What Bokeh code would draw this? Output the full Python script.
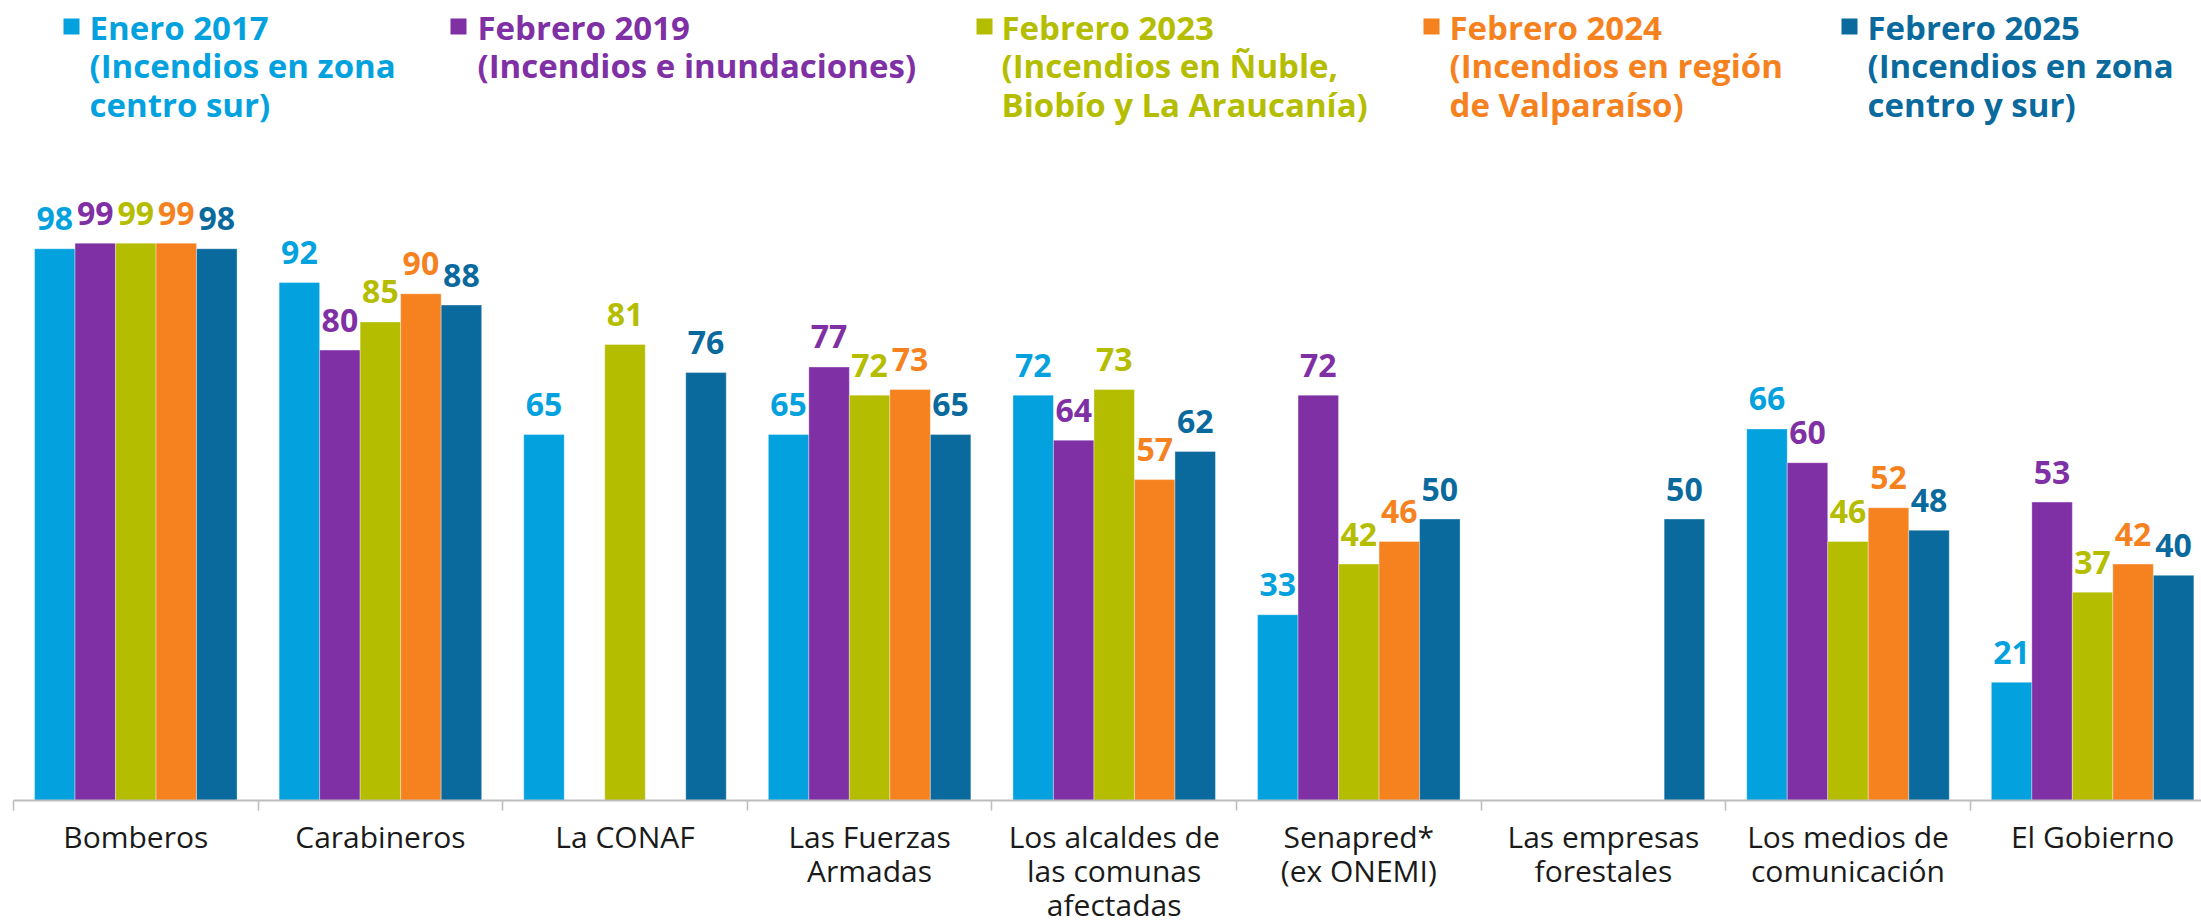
from bokeh.plotting import figure
from bokeh.models import (Range1d, ColumnDataSource, LinearAxis, FixedTicker, Label, BoxAnnotation)
from bokeh.core.properties import value
from bokeh.embed import file_html
from bokeh.resources import INLINE

# ---------------- data ----------------
categories = ["Bomberos", "Carabineros", "La CONAF", "Las Fuerzas\nArmadas",
              "Los alcaldes de\nlas comunas\nafectadas", "Senapred*\n(ex ONEMI)",
              "Las empresas\nforestales", "Los medios de\ncomunicación", "El Gobierno"]

series_labels = [
    "Enero 2017\n(Incendios en zona\ncentro sur)",
    "Febrero 2019\n(Incendios e inundaciones)",
    "Febrero 2023\n(Incendios en Ñuble,\nBiobío y La Araucanía)",
    "Febrero 2024\n(Incendios en región\nde Valparaíso)",
    "Febrero 2025\n(Incendios en zona\ncentro y sur)",
]
enero_2017 = [98, 92, 65, 65, 72, 33, None, 66, 21]
febrero_2019 = [99, 80, None, 77, 64, 72, None, 60, 53]
febrero_2023 = [99, 85, 81, 72, 73, 42, None, 46, 37]
febrero_2024 = [99, 90, None, 73, 57, 46, None, 52, 42]
febrero_2025 = [98, 88, 76, 65, 62, 50, 50, 48, 40]
series_values = [enero_2017, febrero_2019, febrero_2023, febrero_2024, febrero_2025]

# ---------------- style ----------------
colors = ["#03a2df", "#7f30a5", "#b5bd00", "#f6821f", "#0a6a9d"]
BAR_W = 0.1656
offsets = [-2 * BAR_W, -BAR_W, 0.0, BAR_W, 2 * BAR_W]
FONT = "Open Sans"

N = len(categories)
FRAME_LEFT = 13
FRAME_W = 2201 - FRAME_LEFT
CAT_PX = 244.6
FRAME_H = 800
PX_PER_UNIT = 5.63
y_max = FRAME_H / PX_PER_UNIT
x_max = FRAME_W / CAT_PX


def page_x(px):
    return (px - FRAME_LEFT) / CAT_PX


def page_y(py):
    return y_max - py / PX_PER_UNIT


p = figure(x_range=Range1d(0, x_max), y_range=Range1d(0, y_max),
           frame_width=FRAME_W, frame_height=FRAME_H,
           output_backend="svg", toolbar_location=None,
           x_axis_location=None, y_axis_location=None,
           min_border_left=FRAME_LEFT, min_border_right=0,
           min_border_top=0, min_border_bottom=0)
p.outline_line_color = None
p.xgrid.grid_line_color = None
p.ygrid.grid_line_color = None
p.background_fill_color = "white"
p.border_fill_color = "white"

# separator ticks at category boundaries (no labels)
boundaries = list(range(N + 1))
sep_axis = LinearAxis(ticker=FixedTicker(ticks=boundaries, minor_ticks=[]),
                      major_label_overrides={b: "" for b in boundaries},
                      major_tick_out=10, major_tick_in=0, minor_tick_line_color=None,
                      axis_line_color="#bdbdbd", axis_line_width=2,
                      major_tick_line_color="#bdbdbd", major_tick_line_width=1.5,
                      major_label_text_font_size="1px", major_label_standoff=0)
p.add_layout(sep_axis, "below")

# category names at category centres
centres = [i + 0.5 for i in range(N)]
cat_axis = LinearAxis(ticker=FixedTicker(ticks=centres, minor_ticks=[]),
                      major_label_overrides={c: name for c, name in zip(centres, categories)},
                      axis_line_color=None, major_tick_line_color=None,
                      major_tick_out=0, major_tick_in=0, minor_tick_line_color=None,
                      major_label_text_font=FONT, major_label_text_font_size="30px",
                      major_label_text_line_height=0.83,
                      major_label_text_color="#1a1a1a", major_label_standoff=5)
p.add_layout(cat_axis, "below")

for vals, col, off in zip(series_values, colors, offsets):
    xs = [i + 0.5 + off for i, v in enumerate(vals) if v is not None]
    ys = [v for v in vals if v is not None]
    src = ColumnDataSource(dict(x=xs, val=ys, lab=[str(v) for v in ys]))
    p.vbar(x="x", top="val", bottom=0, width=BAR_W,
           source=src, fill_color=col, line_color="white", line_alpha=0.35, line_width=1)
    p.text(x="x", y="val", text="lab", source=src,
           text_align="center", text_baseline="alphabetic", y_offset=-30,
           text_font=value(FONT), text_font_style="bold", text_font_size="32px",
           text_color=col)

# ---------------- legend (manual, multi-line) ----------------
legend_square_left = [63, 450, 976, 1423, 1841]
legend_text_left = [89, 477, 1001, 1449, 1867]
for lab, col, sx, tx in zip(series_labels, colors, legend_square_left, legend_text_left):
    p.add_layout(BoxAnnotation(left=page_x(sx), right=page_x(sx + 16),
                               top=page_y(18), bottom=page_y(34),
                               fill_color=col, fill_alpha=1.0,
                               line_color=None, level="overlay"))
    p.add_layout(Label(x=page_x(tx), y=page_y(4), text=lab,
                       text_align="left", text_baseline="top",
                       text_font=FONT, text_font_style="bold", text_font_size="33px",
                       text_line_height=0.86, text_color=col))

open("out.html", "w").write(file_html(p, INLINE))
